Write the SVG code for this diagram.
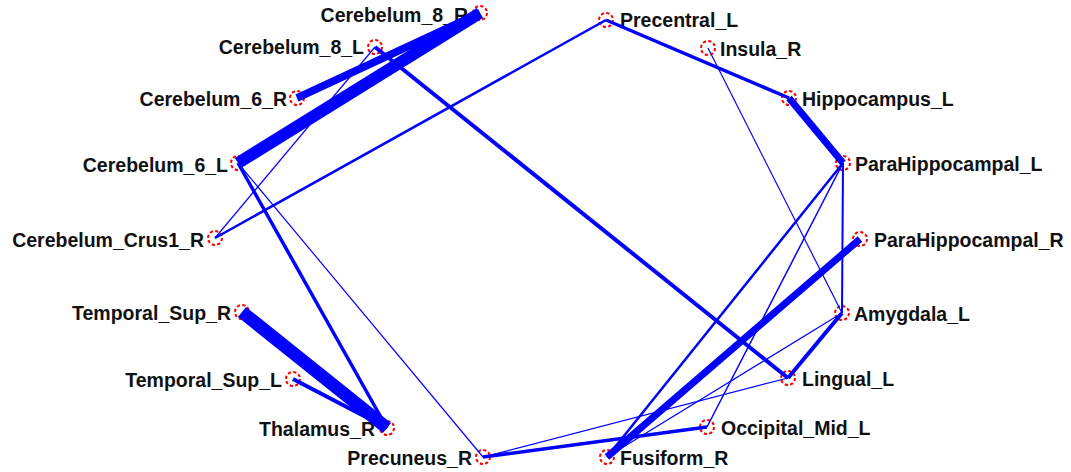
<svg xmlns="http://www.w3.org/2000/svg" width="1071" height="472" viewBox="0 0 1071 472">
<style>
.n circle{fill:none;stroke:#ff0000;stroke-width:2;stroke-dasharray:3.2 2.3}
.n text{font-family:"Liberation Sans",Arial,sans-serif;font-weight:bold;font-size:19.5px;fill:#111}
.l text{text-anchor:end}
#edges line{stroke:#0000ff;stroke-linecap:butt}
</style>
<rect width="1071" height="472" fill="#ffffff"/>
<g id="nodes">
<g id="n-cerebelum-8-r" class="n l"><circle cx="480" cy="13" r="7"/><text x="468" y="22">Cerebelum_8_R</text></g>
<g id="n-cerebelum-8-l" class="n l"><circle cx="375" cy="47" r="7"/><text x="364" y="54">Cerebelum_8_L</text></g>
<g id="n-cerebelum-6-r" class="n l"><circle cx="297" cy="98" r="7"/><text x="287" y="106">Cerebelum_6_R</text></g>
<g id="n-cerebelum-6-l" class="n l"><circle cx="238" cy="163" r="7"/><text x="228" y="172">Cerebelum_6_L</text></g>
<g id="n-cerebelum-crus1-r" class="n l"><circle cx="215" cy="238" r="7"/><text x="204" y="247">Cerebelum_Crus1_R</text></g>
<g id="n-temporal-sup-r" class="n l"><circle cx="242" cy="312" r="7"/><text x="231" y="320">Temporal_Sup_R</text></g>
<g id="n-temporal-sup-l" class="n l"><circle cx="293" cy="379" r="7"/><text x="282" y="387">Temporal_Sup_L</text></g>
<g id="n-thalamus-r" class="n l"><circle cx="387" cy="428" r="7"/><text x="375" y="436">Thalamus_R</text></g>
<g id="n-precuneus-r" class="n l"><circle cx="483" cy="457" r="7"/><text x="472" y="465">Precuneus_R</text></g>
<g id="n-fusiform-r" class="n"><circle cx="607" cy="457" r="7"/><text x="620" y="465">Fusiform_R</text></g>
<g id="n-occipital-mid-l" class="n"><circle cx="707" cy="427" r="7"/><text x="721" y="435">Occipital_Mid_L</text></g>
<g id="n-lingual-l" class="n"><circle cx="788" cy="378" r="7"/><text x="802" y="386">Lingual_L</text></g>
<g id="n-amygdala-l" class="n"><circle cx="842" cy="313" r="7"/><text x="854" y="321">Amygdala_L</text></g>
<g id="n-parahippocampal-r" class="n"><circle cx="860" cy="239" r="7"/><text x="874" y="247">ParaHippocampal_R</text></g>
<g id="n-parahippocampal-l" class="n"><circle cx="843" cy="163" r="7"/><text x="855" y="171">ParaHippocampal_L</text></g>
<g id="n-hippocampus-l" class="n"><circle cx="789" cy="98" r="7"/><text x="802" y="106">Hippocampus_L</text></g>
<g id="n-insula-r" class="n"><circle cx="708" cy="48" r="7"/><text x="720" y="56">Insula_R</text></g>
<g id="n-precentral-l" class="n"><circle cx="606" cy="20" r="7"/><text x="620" y="27">Precentral_L</text></g>
</g>
<g id="edges">
<line x1="480" y1="13" x2="238" y2="163" stroke-width="12"/>
<line x1="480" y1="13" x2="297" y2="98" stroke-width="7.5"/>
<line x1="375" y1="47" x2="215" y2="238" stroke-width="1.2"/>
<line x1="375" y1="47" x2="788" y2="378" stroke-width="4"/>
<line x1="238" y1="163" x2="387" y2="428" stroke-width="3.5"/>
<line x1="238" y1="163" x2="483" y2="457" stroke-width="1.2"/>
<line x1="215" y1="238" x2="606" y2="20" stroke-width="2.5"/>
<line x1="242" y1="312" x2="387" y2="428" stroke-width="13"/>
<line x1="293" y1="379" x2="387" y2="428" stroke-width="4"/>
<line x1="606" y1="20" x2="789" y2="98" stroke-width="3.5"/>
<line x1="708" y1="48" x2="842" y2="313" stroke-width="1.2"/>
<line x1="789" y1="98" x2="843" y2="163" stroke-width="7"/>
<line x1="843" y1="163" x2="842" y2="313" stroke-width="2"/>
<line x1="843" y1="163" x2="607" y2="457" stroke-width="2.5"/>
<line x1="843" y1="163" x2="707" y2="427" stroke-width="1.5"/>
<line x1="860" y1="239" x2="607" y2="457" stroke-width="7"/>
<line x1="842" y1="313" x2="788" y2="378" stroke-width="4"/>
<line x1="842" y1="313" x2="607" y2="457" stroke-width="1.2"/>
<line x1="483" y1="457" x2="788" y2="378" stroke-width="1.2"/>
<line x1="483" y1="457" x2="707" y2="427" stroke-width="3.5"/>
</g>
</svg>
